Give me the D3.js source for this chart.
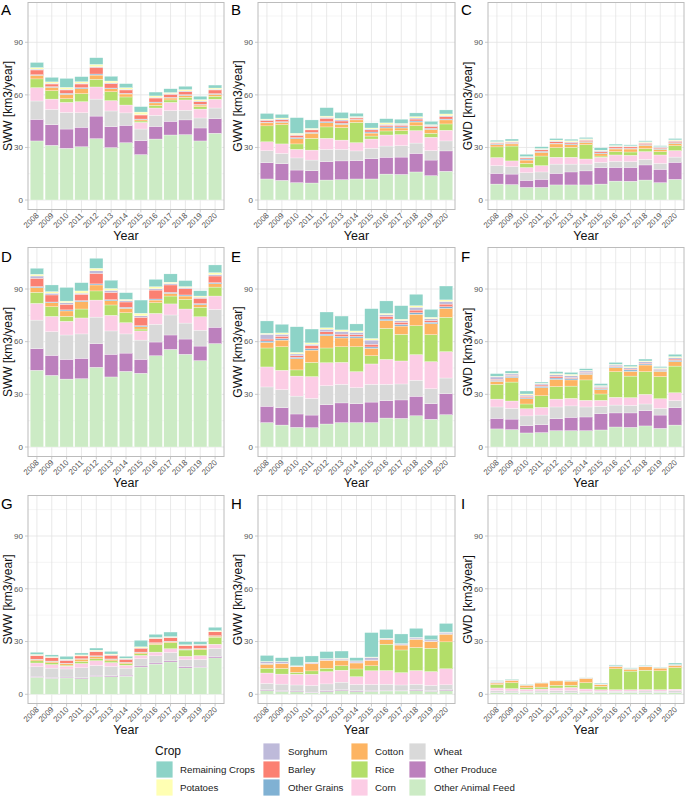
<!DOCTYPE html>
<html><head><meta charset="utf-8">
<script src="https://cdn.jsdelivr.net/npm/d3@7/dist/d3.min.js"></script>
<style>body{margin:0;background:#fff}svg{display:block;font-family:"Liberation Sans",Arial,Helvetica,sans-serif}</style>
</head><body><svg id="chart" width="685" height="797"></svg>
<script>
const years = ["2008","2009","2010","2011","2012","2013","2014","2015","2016","2017","2018","2019","2020"];
// stacking order, bottom to top
const stackOrder = ["Other Animal Feed","Other Produce","Wheat","Corn","Rice","Cotton","Other Grains","Barley","Sorghum","Potatoes","Remaining Crops"];
const stackColors = ["#CCEBC5","#BC80BD","#D9D9D9","#FCCDE5","#B3DE69","#FDB462","#80B1D3","#FB8072","#BEBADA","#FFFFB3","#8DD3C7"];
const legendColumns = [["Remaining Crops","Potatoes"],["Sorghum","Barley","Other Grains"],["Cotton","Rice","Corn"],["Wheat","Other Produce","Other Animal Feed"]];
const yTicks = [0,30,60,90];
const yMinor = [15,45,75,105];
const panelLetters = ["A","B","C","D","E","F","G","H","I"];
const yTitles = ["SWW [km3/year]","GWW [km3/year]","GWD [km3/year]"];

// each row: one year, values in stackOrder
const dataA = [
[33.7,12.3,10.5,7.6,5.0,2.1,0.3,2.7,0.5,0.9,2.9],
[31.2,11.8,8.7,5.9,4.8,1.9,0.4,1.5,0.4,0.8,2.6],
[29.5,11.0,9.5,5.7,2.1,2.5,0.6,1.9,0.4,1.1,5.1],
[30.4,11.1,8.3,6.3,4.6,2.8,0.6,2.1,0.4,0.9,2.9],
[35.0,12.9,9.7,6.9,4.4,2.4,0.6,3.8,0.4,1.3,3.8],
[29.9,12.0,8.9,5.9,5.1,1.7,0.4,2.5,0.4,1.1,2.7],
[32.7,9.9,7.1,4.5,4.6,1.7,0.4,1.9,0.4,0.9,2.3],
[25.9,8.0,6.6,3.8,0.8,0.8,0.3,2.3,0.2,1.5,3.1],
[34.8,7.2,6.3,4.2,1.5,1.4,0.5,2.3,0.4,0.8,2.2],
[37.1,7.8,6.1,4.7,1.4,1.1,0.4,1.7,0.4,0.6,2.2],
[37.3,8.4,5.5,5.9,1.5,1.1,0.4,1.7,0.4,0.8,1.9],
[33.7,7.4,5.7,5.1,1.4,0.9,0.4,1.5,0.4,0.8,1.9],
[38.1,8.3,6.1,5.0,1.7,1.1,0.4,2.1,0.4,0.7,1.7]];
const dataB = [
[12.0,9.3,6.8,5.1,9.1,1.7,0.4,1.0,0.4,0.4,3.2],
[11.2,9.5,5.9,5.4,11.0,1.3,0.4,1.1,0.4,0.6,2.1],
[9.9,7.2,6.9,4.9,3.1,3.0,0.6,1.3,0.4,0.8,8.9],
[9.7,7.0,6.1,5.7,6.7,2.9,0.5,1.4,0.3,0.6,4.8],
[11.4,10.5,7.0,6.3,6.5,2.4,0.6,1.9,0.6,0.7,4.8],
[11.6,10.7,6.6,5.3,7.1,1.9,0.6,1.3,0.6,0.9,3.4],
[12.0,10.5,5.5,4.7,11.6,1.4,0.3,0.8,0.4,0.4,1.9],
[12.0,11.6,5.9,5.3,1.7,1.7,0.6,1.2,0.5,0.6,2.9],
[14.8,9.6,6.4,6.3,2.3,1.7,0.6,0.9,0.6,0.8,2.4],
[14.6,9.9,6.5,6.3,2.3,1.5,0.6,0.9,0.6,0.5,2.4],
[16.0,10.6,5.9,7.1,2.8,2.1,0.6,1.1,0.6,0.8,2.1],
[13.9,8.9,5.4,7.6,2.3,2.2,0.6,1.1,0.6,0.4,1.9],
[16.4,11.6,5.7,6.1,3.6,2.3,0.5,1.4,0.5,1.0,2.3]];
const dataC = [
[9.1,6.1,4.4,4.6,6.1,1.3,0.4,0.5,0.4,0.4,0.8],
[8.8,6.0,4.2,3.3,8.5,1.2,0.4,0.5,0.4,0.4,1.1],
[7.2,4.0,4.4,2.9,2.4,1.9,0.6,0.6,0.4,0.4,1.3],
[7.2,4.6,4.2,3.6,5.5,2.1,0.6,0.8,0.4,0.4,1.0],
[8.6,6.6,5.3,3.9,5.5,2.1,0.4,0.8,0.4,0.6,0.9],
[8.6,7.4,4.5,3.9,5.7,1.5,0.4,0.8,0.4,0.6,0.9],
[8.6,8.0,3.9,2.9,8.2,1.3,0.4,0.8,0.4,0.4,0.8],
[9.1,9.4,3.0,2.9,0.7,1.3,0.4,0.8,0.4,0.4,1.4],
[10.8,7.8,3.5,3.6,1.9,1.5,0.4,0.8,0.4,0.4,0.8],
[10.7,7.9,3.3,3.6,1.9,1.7,0.4,0.8,0.4,0.2,0.6],
[11.4,8.6,3.2,4.4,1.7,1.9,0.4,0.8,0.4,0.4,0.6],
[9.9,7.6,3.4,4.8,1.9,1.3,0.4,0.6,0.4,0.2,0.5],
[11.8,9.7,3.0,3.7,2.8,1.3,0.4,0.8,0.4,0.4,0.8]];
const dataD = [
[43.7,12.3,16.3,9.5,6.3,2.7,0.6,4.7,1.3,1.0,3.4],
[40.8,11.4,13.5,8.7,5.5,2.3,0.4,4.0,1.0,0.9,3.8],
[38.7,11.2,13.9,7.8,2.8,3.1,0.6,3.2,0.9,0.9,7.8],
[38.9,11.6,13.9,9.1,5.1,4.2,0.6,3.6,0.6,1.3,4.7],
[45.4,13.5,15.1,9.7,5.2,3.4,0.6,6.0,1.5,1.4,5.7],
[39.9,12.9,13.3,8.9,5.9,2.4,0.6,4.2,1.1,1.1,4.7],
[43.1,10.4,10.9,6.4,5.7,2.5,0.6,3.0,0.8,0.7,3.8],
[42.0,7.9,11.0,5.2,1.1,1.3,0.6,4.8,0.8,1.5,7.5],
[52.0,7.8,10.1,6.2,6.1,1.5,0.6,5.1,0.8,1.1,4.2],
[55.6,8.2,11.4,6.3,4.5,1.5,0.6,4.2,0.8,0.8,4.7],
[52.8,8.7,9.1,8.0,5.5,1.9,0.6,3.6,0.6,0.6,3.4],
[49.2,8.3,9.0,7.7,5.4,1.5,0.6,3.0,0.6,0.7,3.0],
[58.9,9.3,10.2,7.6,5.1,1.9,0.6,3.8,0.8,1.1,4.4]];
const dataE = [
[13.9,9.3,11.0,11.4,10.8,3.2,0.8,1.1,2.7,0.6,7.0],
[12.5,9.9,10.3,11.0,13.4,3.8,0.9,1.3,1.1,0.8,4.9],
[11.2,7.6,10.2,11.4,3.5,6.4,0.8,0.9,1.0,0.9,14.6],
[11.0,7.2,9.5,12.4,8.1,7.0,0.8,1.7,0.8,0.8,7.9],
[13.1,11.0,10.8,13.1,8.4,7.0,0.9,1.3,1.5,0.8,9.0],
[13.9,11.2,10.6,12.5,8.9,5.0,0.9,1.3,1.5,0.9,7.9],
[13.9,10.8,9.1,9.1,14.2,5.0,0.9,1.0,1.3,0.8,4.0],
[13.9,11.7,10.1,11.6,4.7,4.2,0.8,1.5,2.4,0.9,17.0],
[16.5,9.9,9.3,14.2,17.7,4.4,0.9,1.5,0.9,0.8,7.1],
[16.3,10.5,9.1,13.1,15.2,4.7,0.9,1.3,0.9,0.8,7.7],
[17.8,11.1,9.1,14.6,16.5,6.5,0.9,1.5,1.6,0.9,6.5],
[15.8,8.9,8.5,15.4,15.4,6.2,0.9,1.0,1.0,0.8,4.5],
[18.4,12.0,8.9,15.0,19.6,5.1,0.9,1.5,1.5,0.9,7.9]];
const dataF = [
[10.3,6.0,6.5,4.5,8.4,1.7,0.6,0.6,1.3,0.4,1.5],
[9.9,6.0,6.1,4.2,10.8,2.5,0.8,0.5,0.8,0.4,1.3],
[8.0,4.2,5.5,4.1,2.7,3.0,0.6,0.8,0.7,0.6,1.7],
[8.2,4.5,5.5,4.4,6.6,4.6,0.8,0.7,0.6,0.4,0.7],
[9.3,6.8,6.7,4.5,7.1,4.1,0.8,1.0,0.9,0.6,1.1],
[9.3,7.6,6.5,4.3,7.0,3.5,0.8,0.5,1.1,0.8,1.1],
[9.3,7.8,5.7,3.8,11.6,3.2,0.6,0.5,0.8,0.4,0.9],
[9.7,9.3,4.2,3.4,3.6,2.5,0.6,0.5,0.8,0.4,1.1],
[11.4,8.0,4.5,4.4,14.6,2.3,0.6,0.3,0.6,0.4,1.1],
[11.2,8.2,4.3,4.4,12.3,2.7,0.8,0.5,0.8,0.6,0.9],
[12.0,8.7,3.8,5.5,12.9,3.8,0.6,0.5,0.8,0.4,1.1],
[10.6,7.6,3.8,5.5,12.6,3.0,0.6,0.4,0.6,0.4,0.7],
[12.5,9.9,4.0,4.5,15.2,2.5,0.8,0.7,0.8,0.6,1.3]];
const dataG = [
[9.7,0.5,5.5,2.1,1.2,0.8,0.2,2.0,0.2,0.5,1.2],
[9.1,0.5,5.3,2.0,1.0,0.8,0.2,1.9,0.2,0.4,1.0],
[9.3,0.5,4.6,1.6,0.6,0.9,0.2,1.6,0.2,0.4,1.7],
[8.9,0.5,5.7,2.4,1.2,1.3,0.2,1.6,0.2,0.4,1.1],
[10.2,0.6,5.6,2.7,1.1,1.4,0.3,2.3,0.3,0.6,1.2],
[10.0,0.6,5.2,2.2,1.0,0.9,0.2,2.1,0.2,0.5,1.5],
[10.3,0.6,4.0,1.6,0.9,0.6,0.2,1.7,0.2,0.4,1.1],
[15.5,0.6,4.2,1.8,0.9,0.8,0.2,2.2,0.2,0.6,3.7],
[17.2,0.6,4.1,2.1,4.3,0.8,0.2,2.4,0.2,0.4,1.8],
[18.4,0.6,4.8,2.1,3.5,0.6,0.2,2.0,0.2,0.4,2.6],
[15.0,0.8,3.8,2.0,3.6,0.4,0.2,1.8,0.2,0.4,1.7],
[15.4,0.6,3.8,2.2,3.4,0.5,0.2,1.8,0.2,0.3,1.5],
[20.7,0.8,4.6,2.4,4.0,0.6,0.2,2.2,0.2,0.5,1.9]];
const dataH = [
[2.1,0.5,3.6,5.9,2.7,2.3,0.2,0.3,0.9,0.2,3.4],
[1.7,0.5,3.6,5.7,3.2,2.6,0.2,0.2,0.8,0.2,2.1],
[1.5,0.4,3.4,6.1,1.1,3.2,0.1,0.1,0.1,0.2,5.2],
[0.8,0.4,3.8,6.4,1.9,4.0,0.1,0.2,0.4,0.2,3.6],
[1.5,0.6,3.8,7.0,1.9,4.5,0.1,0.1,0.6,0.2,4.0],
[2.1,0.6,4.2,6.8,2.5,3.2,0.1,0.2,0.7,0.2,4.0],
[1.5,0.5,3.6,4.4,4.4,3.4,0.1,0.1,0.9,0.1,1.8],
[1.7,0.5,3.4,7.8,2.8,3.0,0.1,0.2,1.5,0.2,13.9],
[1.9,0.4,3.4,7.8,15.0,2.5,0.1,0.1,0.5,0.2,5.0],
[1.9,0.4,3.0,7.0,12.9,2.8,0.1,0.1,0.5,0.1,5.5],
[2.1,0.6,3.0,7.8,13.1,4.7,0.1,0.1,0.8,0.1,5.1],
[1.7,0.4,3.0,7.8,13.3,3.8,0.1,0.1,0.7,0.1,2.5],
[2.1,0.6,2.7,9.1,15.3,4.4,0.1,0.1,0.9,0.1,4.9]];
const dataI = [
[0.9,0.2,1.0,1.5,2.0,0.8,0.4,0.1,0.5,0.1,0.3],
[0.9,0.2,0.8,1.3,3.4,1.3,0.1,0.1,0.2,0.1,0.3],
[0.8,0.1,0.9,1.1,0.8,1.5,0.1,0.0,0.1,0.1,0.2],
[0.8,0.1,1.0,1.1,1.1,2.3,0.1,0.0,0.1,0.1,0.1],
[0.9,0.2,1.0,1.5,1.5,2.5,0.1,0.0,0.1,0.1,0.1],
[0.9,0.2,0.9,1.9,1.3,2.3,0.1,0.0,0.2,0.1,0.2],
[0.8,0.1,0.8,1.3,3.6,2.5,0.1,0.0,0.1,0.1,0.1],
[0.8,0.1,0.8,0.9,1.9,1.1,0.1,0.0,0.1,0.1,0.5],
[0.9,0.1,0.8,0.8,11.9,1.3,0.1,0.0,0.2,0.1,0.5],
[0.9,0.1,0.8,0.8,10.6,1.1,0.1,0.0,0.2,0.1,0.3],
[0.9,0.2,0.8,0.8,11.0,1.9,0.1,0.0,0.3,0.1,0.4],
[0.9,0.1,0.8,0.8,10.8,1.5,0.1,0.0,0.2,0.1,0.2],
[0.9,0.2,0.9,0.9,12.3,1.3,0.1,0.0,0.2,0.1,0.9]];
const panelData = [dataA,dataB,dataC,dataD,dataE,dataF,dataG,dataH,dataI];

// ---------- layout ----------
const colLayout = [{left:28,right:224},{left:258,right:455},{left:488,right:684}];
const rowLayout = [
  {top:2.5, bottom:209.5, y0:200, y90:42.3, letter:14.5, title:240},
  {top:247.5, bottom:456.5, y0:447, y90:289, letter:261.5, title:487},
  {top:495.5, bottom:703.5, y0:694.3, y90:536, letter:508.5, title:734}
];

const svg = d3.select("#chart");
svg.append("rect").attr("width",685).attr("height",797).attr("fill","#fff");
const colorOf = d3.scaleOrdinal().domain(stackOrder).range(stackColors);
const stackGen = d3.stack().keys(d3.range(stackOrder.length)).value((d,k)=>d[k]);

panelData.forEach((rows, pi) => {
  const ri = Math.floor(pi/3), ci = pi%3;
  const R = rowLayout[ri], C = colLayout[ci];
  const x = d3.scaleBand().domain(years).range([C.left, C.right]).paddingInner(0.1).paddingOuter(0.15);
  const y = d3.scaleLinear().domain([0,90]).range([R.y0, R.y90]);
  const g = svg.append("g");

  // grid
  g.selectAll(".gmin").data(yMinor).join("line")
    .attr("x1",C.left).attr("x2",C.right).attr("y1",d=>y(d)).attr("y2",d=>y(d))
    .attr("stroke","#efefef").attr("stroke-width",0.6);
  g.selectAll(".gmaj").data(yTicks).join("line")
    .attr("x1",C.left).attr("x2",C.right).attr("y1",d=>y(d)).attr("y2",d=>y(d))
    .attr("stroke","#e3e3e3").attr("stroke-width",0.8);
  g.selectAll(".gx").data(years).join("line")
    .attr("x1",d=>x(d)+x.bandwidth()/2).attr("x2",d=>x(d)+x.bandwidth()/2)
    .attr("y1",R.top).attr("y2",R.bottom)
    .attr("stroke","#e3e3e3").attr("stroke-width",0.8);

  // bars
  const series = stackGen(rows);
  series.forEach((s, k) => {
    g.append("g").attr("fill", stackColors[k]).selectAll("rect").data(s).join("rect")
      .attr("x",(d,i)=>x(years[i]))
      .attr("width",x.bandwidth())
      .attr("y",d=>y(d[1]))
      .attr("height",d=>Math.max(0,y(d[0])-y(d[1])))
      .attr("stroke","#fff").attr("stroke-width",0.3);
  });

  // border
  g.append("rect").attr("x",C.left).attr("y",R.top).attr("width",C.right-C.left).attr("height",R.bottom-R.top)
    .attr("fill","none").attr("stroke","#bcbcbc").attr("stroke-width",1);

  // y axis
  const ya = g.append("g");
  ya.selectAll("line").data(yTicks).join("line")
    .attr("x1",C.left-3).attr("x2",C.left).attr("y1",d=>y(d)).attr("y2",d=>y(d))
    .attr("stroke","#bcbcbc").attr("stroke-width",0.8);
  ya.selectAll("text").data(yTicks).join("text")
    .attr("x",C.left-5).attr("y",d=>y(d)).attr("dy","0.35em")
    .attr("text-anchor","end").attr("font-size",8).attr("fill","#555")
    .text(d=>d);

  // x axis
  const xa = g.append("g");
  xa.selectAll("line").data(years).join("line")
    .attr("x1",d=>x(d)+x.bandwidth()/2).attr("x2",d=>x(d)+x.bandwidth()/2)
    .attr("y1",R.bottom).attr("y2",R.bottom+3)
    .attr("stroke","#bcbcbc").attr("stroke-width",0.8);
  xa.selectAll("text").data(years).join("text")
    .attr("transform",d=>`translate(${x(d)+x.bandwidth()/2+2.5},${R.bottom+6.5}) rotate(-45)`)
    .attr("text-anchor","end").attr("font-size",8).attr("fill","#555")
    .text(d=>d);

  // titles
  g.append("text").attr("x",(C.left+C.right)/2).attr("y",R.title)
    .attr("text-anchor","middle").attr("font-size",12.5).attr("fill","#111").text("Year");
  const cy = (R.top+R.bottom)/2;
  g.append("text").attr("transform",`translate(${C.left-16},${cy}) rotate(-90)`)
    .attr("text-anchor","middle").attr("font-size",12).attr("fill","#111").text(yTitles[ci]);
  g.append("text").attr("x",C.left-27).attr("y",R.letter)
    .attr("font-size",15).attr("fill","#000").text(panelLetters[pi]);
});

// ---------- legend ----------
const lg = svg.append("g");
lg.append("text").attr("x",155).attr("y",755).attr("font-size",12).attr("fill","#111").text("Crop");
const colKeyX = [156,263,351,409];
const colTextX = [180,288,375,434];
const rowKeyY = [743,761,779];
legendColumns.forEach((col, c) => {
  const startRow = 3 - col.length;
  col.forEach((name, r) => {
    const ky = rowKeyY[startRow + r];
    lg.append("rect").attr("x",colKeyX[c]).attr("y",ky).attr("width",17).attr("height",17)
      .attr("fill",colorOf(name)).attr("stroke","#fff").attr("stroke-width",0.8);
    lg.append("text").attr("x",colTextX[c]).attr("y",ky+8.5).attr("dy","0.35em")
      .attr("font-size",9.7).attr("fill","#222").text(name);
  });
});
</script></body></html>
